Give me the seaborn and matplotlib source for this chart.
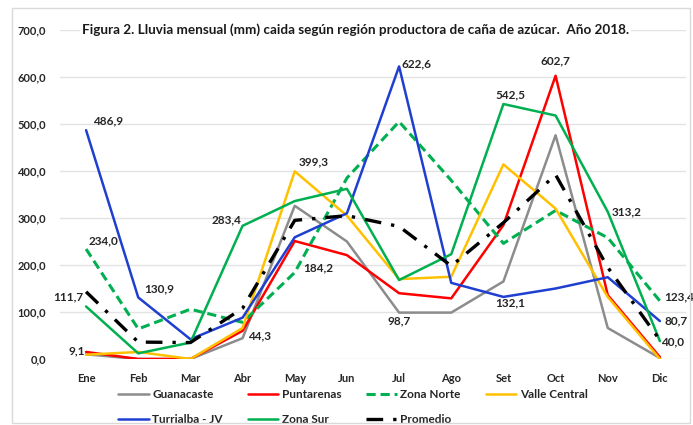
import matplotlib
matplotlib.use("Agg")
import matplotlib.pyplot as plt
import matplotlib.ticker as mticker
from matplotlib.patches import Rectangle
import pandas as pd
import seaborn as sns

meses = ['Ene', 'Feb', 'Mar', 'Abr', 'May', 'Jun', 'Jul', 'Ago', 'Set', 'Oct', 'Nov', 'Dic']

guanacaste = [10, 0, 0, 44.3, 326, 250, 98.7, 98.7, 165, 476, 66, 2]
puntarenas = [15, 0, 0, 60, 251, 221, 140, 129, 285, 602.7, 136, 4]
zona_norte = [234.0, 64, 106, 78, 184.2, 385, 505, 380, 246, 316, 258, 123.4]
valle_central = [9.1, 15, 0, 66, 399.3, 305, 170, 175, 414, 320, 132, 0]
turrialba = [486.9, 130.9, 42, 88, 259, 310, 622.6, 162, 132.1, 150, 174, 80.7]
zona_sur = [111.7, 12, 35, 283.4, 336, 362, 168, 223, 542.5, 518, 313.2, 38]
promedio = [143, 36, 35, 108, 295, 305, 282, 198, 290, 392, 195, 40.0]

series = {
    'Guanacaste': guanacaste,
    'Puntarenas': puntarenas,
    'Zona Norte': zona_norte,
    'Valle Central': valle_central,
    'Turrialba - JV': turrialba,
    'Zona Sur': zona_sur,
    'Promedio': promedio,
}

estilos = {
    'Guanacaste': dict(color='#8C8C8C'),
    'Puntarenas': dict(color='#FF0000'),
    'Zona Norte': dict(color='#00B050', dashes=(3, 1.6), lw=2.2),
    'Valle Central': dict(color='#FFC000'),
    'Turrialba - JV': dict(color='#1F3FD0'),
    'Zona Sur': dict(color='#00B050'),
    'Promedio': dict(color='black', dashes=(5, 3, 1, 3), lw=2.4),
}

# etiquetas de datos: (serie, mes, texto, dx, dy, ha)
etiquetas = [
    ('Turrialba - JV', 'Ene', '486,9', 5, 3, 'left'),
    ('Turrialba - JV', 'Feb', '130,9', 4, 2, 'left'),
    ('Zona Norte', 'Ene', '234,0', 2, 2, 'left'),
    ('Zona Sur', 'Ene', '111,7', -2, 3, 'right'),
    ('Valle Central', 'Ene', '9,1', -1, -1, 'right'),
    ('Zona Sur', 'Abr', '283,4', -1, 0, 'right'),
    ('Guanacaste', 'Abr', '44,3', 4, -2, 'left'),
    ('Valle Central', 'May', '399,3', 3, 3, 'left'),
    ('Zona Norte', 'May', '184,2', 6, -1, 'left'),
    ('Turrialba - JV', 'Jul', '622,6', 2, -2, 'left'),
    ('Guanacaste', 'Jul', '98,7', 0, -10, 'center'),
    ('Zona Sur', 'Set', '542,5', 5, 3, 'center'),
    ('Puntarenas', 'Oct', '602,7', 0, 7, 'center'),
    ('Turrialba - JV', 'Set', '132,1', 5, -8, 'center'),
    ('Zona Sur', 'Nov', '313,2', 3, -4, 'left'),
    ('Zona Norte', 'Dic', '123,4', 3, -1, 'left'),
    ('Turrialba - JV', 'Dic', '80,7', 3, -4, 'left'),
    ('Promedio', 'Dic', '40,0', 1, -5, 'left'),
]

sns.set_style('white')
plt.rcParams['font.family'] = ['Lato', 'DejaVu Sans']
plt.rcParams['font.weight'] = 'bold'

fig = plt.figure(figsize=(6.93, 4.25), dpi=100)
ax = fig.add_axes([60 / 693, 1 - 359 / 425, 626 / 693, 329 / 425])

for nombre, valores in series.items():
    df = pd.DataFrame({'Mes': meses, 'Lluvia': valores})
    st = estilos[nombre]
    sns.lineplot(x='Mes', y='Lluvia', data=df, ax=ax, label=nombre, sort=False,
                 color=st['color'], lw=st.get('lw', 1.8))
    if 'dashes' in st:
        ax.lines[-1].set_dashes(st['dashes'])

for nombre, mes, texto, dx, dy, ha in etiquetas:
    i = meses.index(mes)
    ax.annotate(texto, (i, series[nombre][i]), xytext=(dx, dy), textcoords='offset points',
                ha=ha, va='bottom', fontsize=8.5, fontweight='bold', color='#262626')

ax.set_xlim(-0.5, 11.5)
ax.set_ylim(0, 700)
ax.set_yticks(range(0, 701, 100))
ax.yaxis.set_major_formatter(mticker.FuncFormatter(lambda v, p: f'{v:.1f}'.replace('.', ',')))
ax.grid(axis='y', color='#E3E3E3', lw=1)
ax.set_axisbelow(True)
for s in ax.spines.values():
    s.set_visible(False)
ax.tick_params(axis='both', length=0, labelsize=8, colors='#262626')
ax.tick_params(axis='x', pad=10)
ax.tick_params(axis='y', pad=10)
for t in ax.get_xticklabels() + ax.get_yticklabels():
    t.set_fontweight('bold')
ax.set_xlabel('')
ax.set_ylabel('')

ax.text(5.17, 700, 'Figura 2. Lluvia mensual (mm) caida según región productora de caña de azúcar.  Año 2018.',
        ha='center', va='center', fontsize=9.7, fontweight='bold', color='#1a1a1a',
        bbox=dict(facecolor='white', edgecolor='none', pad=1.5))

# orden para que la leyenda se lea por filas
handles, labels = ax.get_legend_handles_labels()
orden = ['Guanacaste', 'Turrialba - JV', 'Puntarenas', 'Zona Sur', 'Zona Norte', 'Promedio', 'Valle Central']
h = [handles[labels.index(n)] for n in orden]
leg = ax.legend(h, orden, loc='upper left', bbox_to_anchor=(118 / 693, 1 - 389 / 425),
                bbox_transform=fig.transFigure, ncol=4, frameon=False, fontsize=8.5,
                handlelength=2.6, handletextpad=0.3, columnspacing=2.1, labelspacing=1.2,
                borderpad=0, borderaxespad=0)
for t in leg.get_texts():
    t.set_fontweight('bold')
    t.set_color('#262626')

fig.patches.append(Rectangle((12 / 693, 0.005), 678 / 693, 1 - 8 / 425 - 0.005, transform=fig.transFigure,
                             fill=False, edgecolor='#D9D9D9', lw=1))

plt.savefig('out.png', dpi=100)
